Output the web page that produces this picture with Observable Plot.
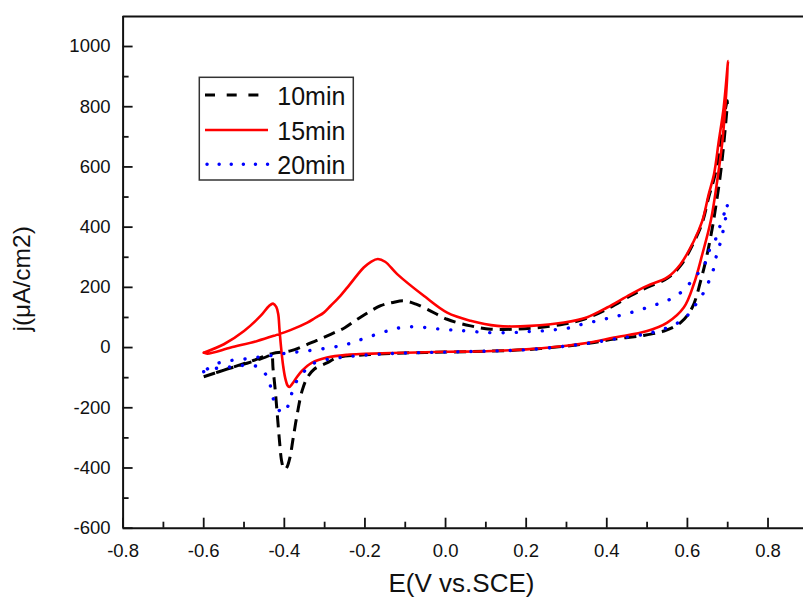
<!DOCTYPE html>
<html>
<head>
<meta charset="utf-8">
<script src="https://cdn.jsdelivr.net/npm/d3@7"></script>
<script src="https://cdn.jsdelivr.net/npm/@observablehq/plot@0.6"></script>
<style>
  html, body { margin: 0; padding: 0; background: #fff; overflow: hidden; }
  #chart { position: relative; width: 803px; height: 599px; }
</style>
</head>
<body>
<div id="chart"></div>
<script>
// ---- data (E in V vs SCE, j in µA/cm2) ----
const e10 = [-0.600,-0.550,-0.500,-0.460,-0.440,-0.432,-0.428,-0.422,-0.417,-0.412,-0.407,-0.402,-0.398,-0.393,-0.386,-0.378,-0.368,-0.356,-0.343,-0.326,-0.293,-0.268,-0.200,-0.100,0.000,0.100,0.200,0.300,0.360,0.418,0.484,0.542,0.583,0.612,0.633,0.649,0.662,0.670,0.682,0.691,0.699,
  0.690,0.680,0.666,0.653,0.637,0.616,0.583,0.550,0.500,0.459,0.401,0.343,0.294,0.228,0.170,0.112,0.062,0.004,-0.045,-0.075,-0.103,-0.130,-0.161,-0.219,-0.250,-0.285,-0.318,-0.385,-0.430,-0.475,-0.525,-0.566,-0.600];
const j10 = [-97,-75,-55,-38,-28,-22,-70,-150,-230,-310,-375,-400,-404,-396,-365,-300,-221,-144,-100,-72,-50,-33,-24,-18,-15,-12,-7,5,15,28,39,55,83,133,222,310,399,465,576,687,820,
  760,650,560,500,415,350,272,230,200,172,128,94,78,66,61,61,72,94,127,145,155,150,139,94,66,44,25,-11,-20,-42,-64,-82,-97];

const e15 = [-0.600,-0.550,-0.500,-0.459,-0.438,-0.428,-0.420,-0.415,-0.412,-0.408,-0.403,-0.398,-0.392,-0.388,-0.380,-0.370,-0.356,-0.331,-0.294,-0.244,-0.200,-0.100,0.000,0.100,0.200,0.300,0.350,0.418,0.500,0.550,0.591,0.616,0.637,0.658,0.674,0.687,0.695,0.701,
  0.690,0.678,0.666,0.653,0.637,0.616,0.583,0.550,0.500,0.459,0.401,0.350,0.294,0.211,0.128,0.062,0.004,-0.054,-0.120,-0.150,-0.168,-0.185,-0.203,-0.244,-0.261,-0.285,-0.302,-0.323,-0.343,-0.385,-0.426,-0.467,-0.533,-0.591,-0.600];
const j15 = [-17,11,55,105,138,146,135,110,60,0,-60,-100,-126,-131,-120,-100,-77,-50,-33,-24,-21,-17,-14,-12,-6,6,15,33,55,83,133,211,310,421,554,687,820,952,
  797,687,576,510,421,354,277,233,205,177,133,100,83,72,72,89,116,172,244,285,294,285,266,199,172,139,116,99,83,58,39,22,0,-20,-17];

const e20 = [-0.600,-0.558,-0.525,-0.492,-0.463,-0.440,-0.432,-0.423,-0.410,-0.401,-0.393,-0.385,-0.376,-0.356,-0.331,-0.293,-0.261,-0.200,-0.100,0.000,0.100,0.200,0.300,0.368,0.418,0.492,0.533,0.571,0.599,0.612,0.634,0.651,0.664,0.672,0.681,0.689,0.695,0.699,
  0.692,0.681,0.670,0.653,0.641,0.616,0.591,0.558,0.525,0.459,0.393,0.335,0.302,0.269,0.236,0.203,0.170,0.103,0.054,0.021,-0.012,-0.045,-0.078,-0.112,-0.145,-0.211,-0.244,-0.276,-0.343,-0.385,-0.413,-0.442,-0.473,-0.504,-0.538,-0.571,-0.600];
const j20 = [-80,-66,-64,-58,-66,-103,-144,-188,-212,-216,-200,-171,-127,-88,-55,-39,-33,-25,-18,-15,-12,-7,5,17,28,44,58,78,105,128,168,213,257,305,345,390,432,478,
  448,404,360,319,271,231,191,161,144,116,94,76,64,59,55,53,50,50,55,58,61,66,69,66,55,26,11,2,-11,-17,-22,-28,-33,-39,-44,-55,-80];

const seriesNames = ["10min", "15min", "20min"];
const seriesColors = ["#000000", "#ff0000", "#0000ff"];

const xMajor = [-0.8, -0.6, -0.4, -0.2, 0.0, 0.2, 0.4, 0.6, 0.8];
const xMinor = [-0.7, -0.5, -0.3, -0.1, 0.1, 0.3, 0.5, 0.7];
const yMajor = [-600, -400, -200, 0, 200, 400, 600, 800, 1000];
const yMinor = [-500, -300, -100, 100, 300, 500, 700, 900];

const xTitle = "E(V vs.SCE)";
const yTitle = "j(\u03bcA/cm2)";

// ---- build tables ----
const toRows = (E, J) => E.map((e, i) => ({e, j: J[i]}));
const d10 = toRows(e10, j10), d15 = toRows(e15, j15), d20 = toRows(e20, j20);

// ---- layout ----
const W = 803, H = 599;
const ML = 122.6, MR = 0, MT = 15.9, MB = H - 527.7;
const XR = 805; // right edge of the frame lies just outside the picture
const FW = W - ML - MR, FH = H - MT - MB;
const font = "'Liberation Sans', Arial, sans-serif";

const styles = [
  {strokeWidth: 3, strokeDasharray: "12,7", strokeLinecap: "butt"},
  {strokeWidth: 2.6},
  {strokeWidth: 3.4, strokeDasharray: "0.1,13", strokeLinecap: "round"}
];

const chart = Plot.plot({
  width: W, height: H,
  marginLeft: ML, marginRight: MR, marginTop: MT, marginBottom: MB,
  x: {domain: [-0.8, 0.893], range: [ML, XR]},
  y: {domain: [-600, 1100]},
  style: {fontFamily: font, background: "#fff", color: "#111", overflow: "hidden"},
  marks: [
    Plot.line(d10, {x: "e", y: "j", stroke: seriesColors[0], curve: "catmull-rom", ...styles[0]}),
    Plot.line(d15, {x: "e", y: "j", stroke: seriesColors[1], curve: "catmull-rom", ...styles[1]}),
    Plot.line(d20, {x: "e", y: "j", stroke: seriesColors[2], curve: "catmull-rom", ...styles[2]}),
    Plot.ruleY([-600, 1100], {stroke: "#111", strokeWidth: 2}),
    Plot.ruleX([-0.8], {stroke: "#111", strokeWidth: 2}),
    Plot.tickX(xMajor, {x: d => d, insetTop: FH - 10, stroke: "#111", strokeWidth: 1.8}),
    Plot.tickX(xMinor, {x: d => d, insetTop: FH - 6, stroke: "#111", strokeWidth: 1.8}),
    Plot.tickY(yMajor, {y: d => d, insetRight: FW - 10, stroke: "#111", strokeWidth: 1.8}),
    Plot.tickY(yMinor, {y: d => d, insetRight: FW - 6, stroke: "#111", strokeWidth: 1.8}),
    Plot.axisX({ticks: xMajor, tickSize: 0, tickPadding: 16, tickFormat: d => d.toFixed(1), fontSize: 18.5, label: null}),
    Plot.axisY({ticks: yMajor, tickSize: 0, tickPadding: 12.6, tickFormat: d => String(d), fontSize: 18.5, label: null})
  ]
});

document.getElementById("chart").appendChild(chart);

// ---- axis titles and legend ----
const svg = d3.select(chart);
const g = svg.append("g").attr("font-family", font).attr("fill", "#111");
g.append("text").attr("x", 461.5).attr("y", 591.7).style("text-anchor", "middle")
  .style("font-size", "26px").text(xTitle);
// rotated title: anchored at its start (the "j"), reading upward, centred on y ≈ 279
const yt = g.append("text").attr("transform", "translate(29.9,331.5) rotate(-90)").style("text-anchor", "start")
  .style("font-size", "24.5px").text(yTitle);

const lg = svg.append("g").attr("font-family", font);
lg.append("rect").attr("x", 199.3).attr("y", 77.3).attr("width", 154).attr("height", 102.7)
  .attr("fill", "#fff").attr("stroke", "#333").attr("stroke-width", 1.5);
const rowY = [95, 130, 164.3];
const legendDash = ["10,11.7", null, "0.1,12"];
seriesNames.forEach((name, i) => {
  const ln = lg.append("line").attr("x1", i === 2 ? 207 : 205).attr("x2", 268).attr("y1", rowY[i]).attr("y2", rowY[i])
    .attr("stroke", seriesColors[i]).attr("stroke-width", styles[i].strokeWidth);
  if (legendDash[i]) ln.attr("stroke-dasharray", legendDash[i]);
  if (i === 2) ln.attr("stroke-linecap", "round");
  lg.append("text").attr("x", 277.3).attr("y", rowY[i] + 9.5).style("text-anchor", "start")
    .style("font-size", "25px").attr("fill", "#111").text(name);
});
</script>
</body>
</html>
